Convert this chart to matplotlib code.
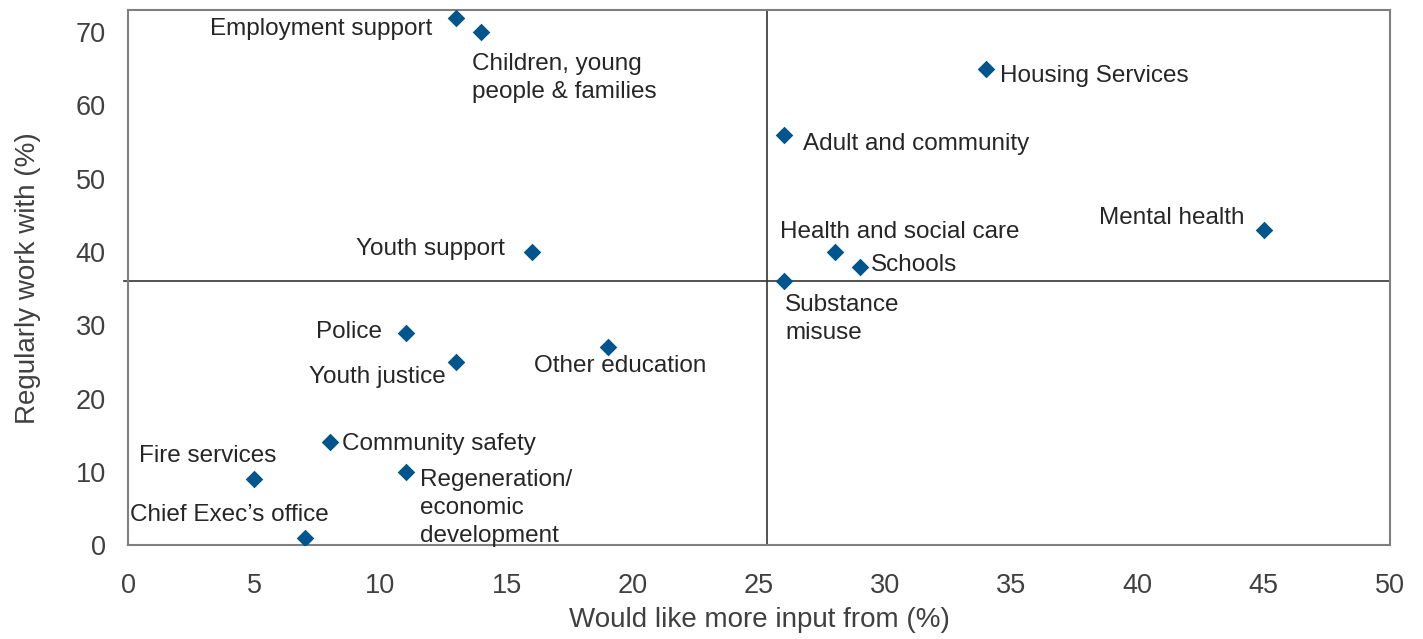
import matplotlib
matplotlib.use("Agg")
import matplotlib.pyplot as plt

plt.rcParams['font.family'] = ['Liberation Sans', 'DejaVu Sans']

services = ["Employment support", "Children, young\npeople & families", "Housing Services",
            "Adult and community", "Mental health", "Health and social care", "Schools",
            "Substance\nmisuse", "Youth support", "Police", "Youth justice", "Other education",
            "Community safety", "Regeneration/\neconomic\ndevelopment", "Fire services",
            "Chief Exec\u2019s office"]
more_input = [13, 14, 34, 26, 45, 28, 29, 26, 16, 11, 13, 19, 8, 11, 5, 7]
work_with = [72, 70, 65, 56, 43, 40, 38, 36, 40, 29, 25, 27, 14, 10, 9, 1]

x_ticks = [0, 5, 10, 15, 20, 25, 30, 35, 40, 45, 50]
y_ticks = [0, 10, 20, 30, 40, 50, 60, 70]
x_ref = 25.3
y_ref = 36

# label placement (pixel offsets from marker, alignment)
label_style = [
    (-24, -11, 'right', 'center'),
    (-9, -21, 'left', 'top'),
    (14, -7, 'left', 'center'),
    (19, -9, 'left', 'center'),
    (-19, 12, 'right', 'center'),
    (-55, 20, 'left', 'center'),
    (11, 2, 'left', 'center'),
    (1, -13, 'left', 'top'),
    (-27, 3, 'right', 'center'),
    (-24, 1, 'right', 'center'),
    (-10, -15, 'right', 'center'),
    (-74, -19, 'left', 'center'),
    (12, -2, 'left', 'center'),
    (14, 3, 'left', 'top'),
    (-115, 23, 'left', 'center'),
    (-175, 23, 'left', 'center'),
]

fig = plt.figure(figsize=(14.23, 6.39), dpi=100)
ax = fig.add_axes([0.09, 0.147, 0.8868, 0.837])

ax.set_xlim(0, 50)
ax.set_ylim(0, 73)

ax.axvline(x_ref, color='#333333', lw=1.2, zorder=1)
ax.plot([-0.15, 50], [y_ref, y_ref], color='#333333', lw=1.2, zorder=1, clip_on=False)

ax.scatter(more_input, work_with, marker='D', s=80, color='#00558c', zorder=3, linewidths=0)

text_color = '#262626'
for name, x, y, (dx, dy, ha, va) in zip(services, more_input, work_with, label_style):
    ax.annotate(name, (x, y), xytext=(dx, dy), textcoords='offset pixels',
                ha=ha, va=va, fontsize=17.5, color=text_color, linespacing=1.35)

ax.set_xticks(x_ticks)
ax.set_yticks(y_ticks)
ax.tick_params(axis='x', length=0, labelsize=19.5, labelcolor='#404040', pad=20)
ax.tick_params(axis='y', length=0, labelsize=19.5, labelcolor='#404040', pad=16)
for s in ax.spines.values():
    s.set_color('#7f7f7f')
    s.set_linewidth(1.5)

ax.set_xlabel("Would like more input from (%)", fontsize=20, color='#404040', labelpad=6)
ax.set_ylabel("Regularly work with (%)", fontsize=20, color='#404040', labelpad=25)

fig.savefig("out.png", dpi=100)
